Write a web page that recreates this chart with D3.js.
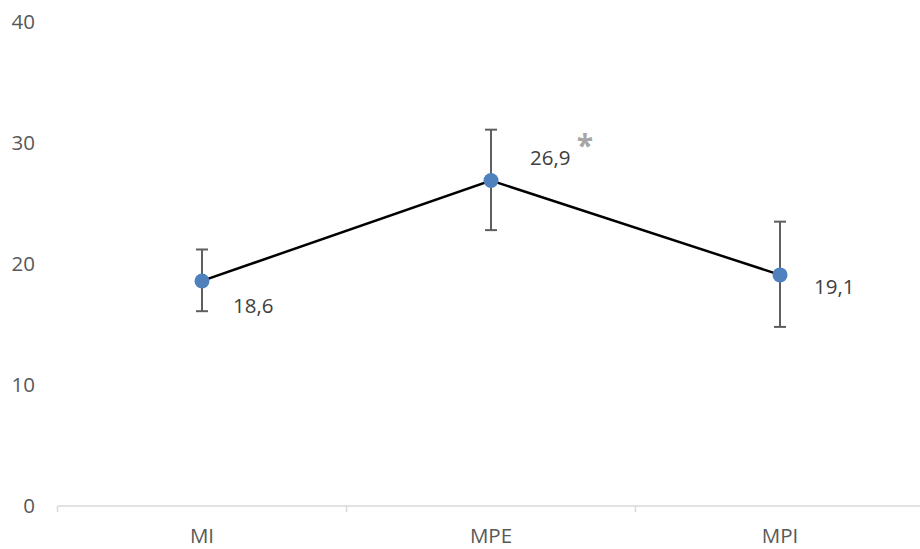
<!DOCTYPE html>
<html>
<head>
<meta charset="utf-8">
<script src="https://cdn.jsdelivr.net/npm/d3@7"></script>
<style>
  html, body { margin: 0; padding: 0; background: #fff; }
  svg { display: block; font-family: "Open Sans", "Noto Sans", sans-serif; }
</style>
</head>
<body>
<svg id="chart" width="920" height="549"></svg>
<script>
// Group names, means and error bar bounds
const categories = ["MI", "MPE", "MPI"];
const means = [18.6, 26.9, 19.1];
const errLow = [16.1, 22.8, 14.8];
const errHigh = [21.2, 31.1, 23.5];
const valueLabels = ["18,6", "26,9", "19,1"];
const significant = [false, true, false];
const yTicks = [0, 10, 20, 30, 40];

const svg = d3.select("#chart");
const x = d3.scaleBand().domain(categories).range([57.5, 924.5]).padding(0);
const y = d3.scaleLinear().domain([0, 40]).range([506, 22]);
const cx = d => x(d) + x.bandwidth() / 2;

// Y axis: labels only
const yAxis = svg.append("g").attr("transform", "translate(35,0)")
  .call(d3.axisLeft(y).tickValues(yTicks).tickSize(0).tickPadding(0));
yAxis.select(".domain").remove();
yAxis.selectAll("text").attr("fill", "#595959").attr("font-size", 20.5).attr("font-family", "Open Sans, sans-serif");

// X axis: line with ticks at category boundaries
const xAxis = svg.append("g").attr("transform", "translate(0,506)");
xAxis.append("line").attr("x1", x.range()[0]).attr("x2", x.range()[1])
  .attr("stroke", "#d9d9d9").attr("stroke-width", 1.5);
const bounds = categories.map(c => x(c)).concat([x.range()[1]]);
xAxis.selectAll("line.tick").data(bounds).enter().append("line")
  .attr("class", "tick")
  .attr("x1", d => d).attr("x2", d => d).attr("y1", 0).attr("y2", 6)
  .attr("stroke", "#d9d9d9").attr("stroke-width", 1.5);
xAxis.selectAll("text").data(categories).enter().append("text")
  .attr("x", d => cx(d)).attr("y", 37)
  .attr("text-anchor", "middle").attr("fill", "#595959").attr("font-size", 20.5)
  .text(d => d);

// Error bars
const errG = svg.append("g").attr("stroke", "#5f5f5f").attr("stroke-width", 2);
categories.forEach((c, i) => {
  errG.append("line").attr("x1", cx(c)).attr("x2", cx(c)).attr("y1", y(errLow[i])).attr("y2", y(errHigh[i]));
  errG.append("line").attr("x1", cx(c) - 6).attr("x2", cx(c) + 6).attr("y1", y(errLow[i])).attr("y2", y(errLow[i]));
  errG.append("line").attr("x1", cx(c) - 6).attr("x2", cx(c) + 6).attr("y1", y(errHigh[i])).attr("y2", y(errHigh[i]));
});

// Mean line
const line = d3.line().x((d, i) => cx(categories[i])).y(d => y(d));
svg.append("path").datum(means).attr("d", line)
  .attr("fill", "none").attr("stroke", "#000").attr("stroke-width", 2.5);

// Markers
svg.selectAll("circle.pt").data(means).enter().append("circle")
  .attr("class", "pt")
  .attr("cx", (d, i) => cx(categories[i])).attr("cy", d => y(d)).attr("r", 7.5)
  .attr("fill", "#4f81bd");

// Value labels
const labelOffsets = [[31, 25], [39, -23], [34, 12]];
svg.selectAll("text.val").data(means).enter().append("text")
  .attr("class", "val")
  .attr("x", (d, i) => cx(categories[i]) + labelOffsets[i][0])
  .attr("y", (d, i) => y(d) + labelOffsets[i][1])
  .attr("dy", "0.35em")
  .attr("fill", "#404040").attr("font-size", 20.5)
  .text((d, i) => valueLabels[i]);

// Significance marker
svg.selectAll("text.sig").data(means.filter((d, i) => significant[i])).enter().append("text")
  .attr("class", "sig")
  .attr("x", d => cx(categories[means.indexOf(d)]) + 94)
  .attr("y", d => y(d) - 25)
  .attr("text-anchor", "middle")
  .attr("fill", "#a6a6a6").attr("font-size", 30).attr("font-weight", "bold")
  .text("*");
</script>
</body>
</html>
